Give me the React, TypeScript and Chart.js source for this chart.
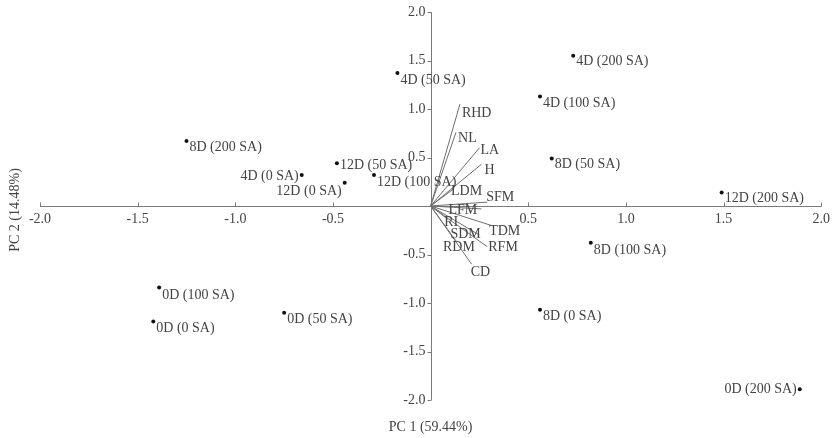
import React, { useEffect, useRef } from 'react';
import { Chart, registerables } from 'chart.js';

Chart.register(...registerables);

// PCA scores of the treatment samples
const sampleNames = [
  '0D (0 SA)', '0D (50 SA)', '0D (100 SA)', '0D (200 SA)',
  '4D (0 SA)', '4D (50 SA)', '4D (100 SA)', '4D (200 SA)',
  '8D (0 SA)', '8D (50 SA)', '8D (100 SA)', '8D (200 SA)',
  '12D (0 SA)', '12D (50 SA)', '12D (100 SA)', '12D (200 SA)',
];
const pc1Scores = [-1.42, -0.75, -1.39, 1.89, -0.66, -0.17, 0.56, 0.73, 0.56, 0.62, 0.82, -1.25, -0.44, -0.48, -0.29, 1.49];
const pc2Scores = [-1.19, -1.10, -0.84, -1.89, 0.32, 1.37, 1.13, 1.55, -1.07, 0.49, -0.38, 0.67, 0.24, 0.44, 0.32, 0.14];

// Trait loadings (vectors from the origin)
const traitNames = ['RHD', 'NL', 'LA', 'H', 'LDM', 'SFM', 'LFM', 'TDM', 'SDM', 'RFM', 'RI', 'RDM', 'CD'];
const pc1Loadings = [0.15, 0.13, 0.25, 0.26, 0.12, 0.29, 0.26, 0.31, 0.25, 0.29, 0.09, 0.13, 0.21];
const pc2Loadings = [1.05, 0.76, 0.60, 0.43, 0.18, 0.04, -0.03, -0.20, -0.30, -0.42, -0.14, -0.36, -0.60];

const axisTicks = [-2, -1.5, -1, -0.5, 0.5, 1, 1.5, 2];
const xTitle = 'PC 1 (59.44%)';
const yTitle = 'PC 2 (14.48%)';

const FONT = '"Liberation Serif", "Times New Roman", serif';
const TEXT = '#444';
const AXIS = '#7a7a7a';

const tickText = (v: number) => (v === 0 ? '' : v.toFixed(1));

// Where each sample label sits relative to its dot: side and vertical nudge
const samplePlacement: Record<string, ['left' | 'right', number]> = {
  '0D (0 SA)': ['right', 7],
  '0D (50 SA)': ['right', 7],
  '0D (100 SA)': ['right', 8],
  '0D (200 SA)': ['left', 0],
  '4D (0 SA)': ['left', 1],
  '4D (50 SA)': ['right', 7],
  '4D (100 SA)': ['right', 7],
  '4D (200 SA)': ['right', 6],
  '8D (0 SA)': ['right', 7],
  '8D (50 SA)': ['right', 6],
  '8D (100 SA)': ['right', 7],
  '8D (200 SA)': ['right', 6],
  '12D (0 SA)': ['left', 9],
  '12D (50 SA)': ['right', 2],
  '12D (100 SA)': ['right', 7],
  '12D (200 SA)': ['right', 6],
};

// Offset of each trait label from the tip of its vector
const traitOffset: Record<string, [number, number]> = {
  RHD: [2, 9],
  NL: [2, 6],
  LA: [1, 3],
  H: [3, 6],
  LDM: [-3, 3],
  SFM: [-1, -5],
  LFM: [-33, 1],
  TDM: [-2, 6],
  SDM: [-29, -1],
  RFM: [1, 1],
  RI: [-4, 3],
  RDM: [-13, 6],
  CD: [-1, 8],
};

const biplotPlugin = {
  id: 'biplot',
  beforeDatasetsDraw(chart: any) {
    const { ctx, scales } = chart;
    const xs = scales.x;
    const ys = scales.y;
    const x0 = Math.round(xs.getPixelForValue(0)) + 0.5;
    const y0 = Math.round(ys.getPixelForValue(0)) + 0.5;
    ctx.save();
    ctx.strokeStyle = AXIS;
    ctx.lineWidth = 1;
    ctx.beginPath();
    ctx.moveTo(xs.getPixelForValue(-2), y0);
    ctx.lineTo(xs.getPixelForValue(2), y0);
    ctx.moveTo(x0, ys.getPixelForValue(2));
    ctx.lineTo(x0, ys.getPixelForValue(-2));
    for (const t of axisTicks) {
      const px = Math.round(xs.getPixelForValue(t)) + 0.5;
      ctx.moveTo(px, y0);
      ctx.lineTo(px, y0 - 4);
      const py = Math.round(ys.getPixelForValue(t)) + 0.5;
      ctx.moveTo(x0, py);
      ctx.lineTo(x0 - 4, py);
    }
    ctx.stroke();

    // vertical axis tick labels, to the left of the axis line
    ctx.fillStyle = TEXT;
    ctx.font = `14px ${FONT}`;
    ctx.textAlign = 'right';
    ctx.textBaseline = 'middle';
    for (const t of ys.ticks) {
      ctx.fillText(tickText(t.value), x0 - 6, ys.getPixelForValue(t.value));
    }
    ctx.restore();
  },
  afterDatasetsDraw(chart: any) {
    const { ctx, scales, height } = chart;
    const xs = scales.x;
    const ys = scales.y;
    ctx.save();
    ctx.fillStyle = TEXT;
    ctx.font = `14px ${FONT}`;
    ctx.textBaseline = 'middle';

    sampleNames.forEach((name, i) => {
      const px = xs.getPixelForValue(pc1Scores[i]);
      const py = ys.getPixelForValue(pc2Scores[i]);
      const [side, dy] = samplePlacement[name];
      if (side === 'right') {
        ctx.textAlign = 'left';
        ctx.fillText(name, px + 3, py + dy);
      } else {
        ctx.textAlign = 'right';
        ctx.fillText(name, px - 3, py + dy);
      }
    });

    ctx.textAlign = 'left';
    traitNames.forEach((name, i) => {
      const px = xs.getPixelForValue(pc1Loadings[i]);
      const py = ys.getPixelForValue(pc2Loadings[i]);
      const [dx, dy] = traitOffset[name];
      ctx.fillText(name, px + dx, py + dy);
    });

    // axis titles
    ctx.textAlign = 'center';
    ctx.fillText(xTitle, xs.getPixelForValue(0), height - 11);
    ctx.translate(15, ys.getPixelForValue(0) + 4);
    ctx.rotate(-Math.PI / 2);
    ctx.fillText(yTitle, 0, 0);
    ctx.restore();
  },
};

export default function App() {
  const canvasRef = useRef<HTMLCanvasElement | null>(null);

  useEffect(() => {
    document.body.style.margin = '0';
    const canvas = canvasRef.current;
    if (!canvas) return;

    const vectorSets = traitNames.map((name, i) => ({
      label: name,
      type: 'line' as const,
      data: [
        { x: 0, y: 0 },
        { x: pc1Loadings[i], y: pc2Loadings[i] },
      ],
      showLine: true,
      borderColor: '#6e6e6e',
      borderWidth: 1,
      pointRadius: 0,
      fill: false,
    }));

    const chart = new Chart(canvas, {
      type: 'scatter',
      data: {
        datasets: [
          ...vectorSets,
          {
            label: 'Samples',
            data: sampleNames.map((_, i) => ({ x: pc1Scores[i], y: pc2Scores[i] })),
            pointRadius: 2,
            pointBackgroundColor: '#111',
            pointBorderWidth: 0,
            showLine: false,
          },
        ] as any,
      },
      options: {
        animation: false,
        responsive: false,
        devicePixelRatio: 1,
        layout: { padding: { left: 40, right: 9, top: 12, bottom: 38 } },
        plugins: {
          legend: { display: false },
          tooltip: { enabled: false },
        },
        scales: {
          x: {
            type: 'linear',
            position: { y: 0 } as any,
            min: -2,
            max: 2,
            grid: { display: false, drawTicks: false },
            border: { display: false },
            ticks: {
              stepSize: 0.5,
              padding: 5,
              color: TEXT,
              font: { family: FONT, size: 14 },
              maxRotation: 0,
              callback: (v: any) => tickText(Number(v)),
            },
          },
          y: {
            type: 'linear',
            position: { x: 0 } as any,
            min: -2,
            max: 2,
            grid: { display: false, drawTicks: false },
            border: { display: false },
            afterFit: (scale: any) => {
              scale.paddingTop = 0;
              scale.paddingBottom = 0;
            },
            ticks: {
              stepSize: 0.5,
              display: false,
            },
          },
        },
      },
      plugins: [biplotPlugin],
    });

    return () => chart.destroy();
  }, []);

  return (
    <div style={{ width: 835, height: 438, background: '#fff' }}>
      <canvas ref={canvasRef} width={835} height={438} />
    </div>
  );
}
